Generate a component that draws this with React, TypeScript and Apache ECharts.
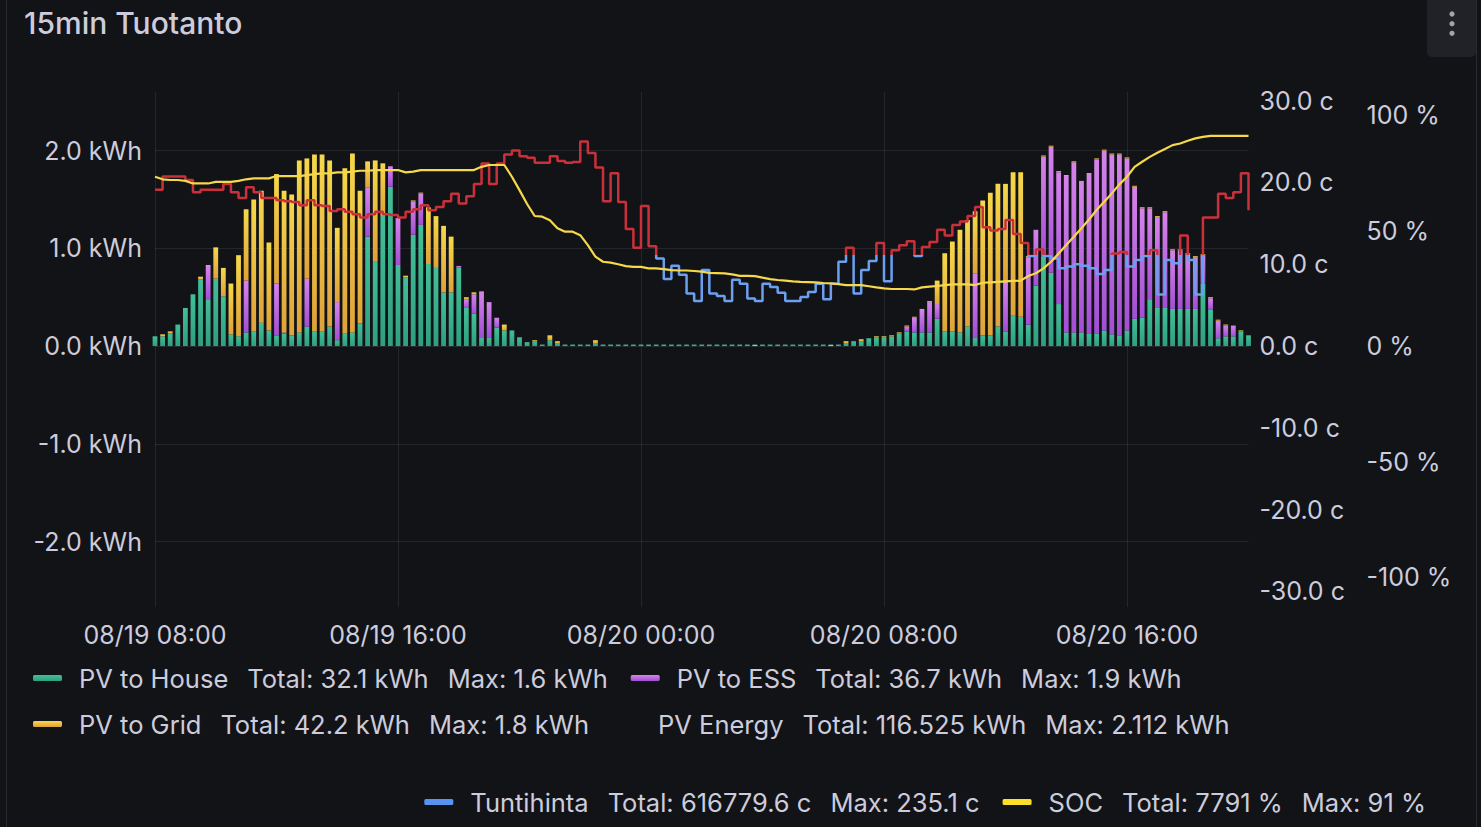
import React, { useEffect, useRef } from "react";
import * as echarts from "echarts";

// ---- time base (15 min slots, 08/19 08:00 -> 08/20 20:00) ----
const START_UTC = Date.UTC(2025, 7, 19, 8, 0, 0);
const SLOT_MS = 15 * 60 * 1000;
const SLOTS_PER_LABEL = 32; // one label / grid line every 8 h

// ---- series values (kWh per 15 min) ----
const PV_TO_HOUSE = [
  0.10, 0.10, 0.13, 0.22, 0.39, 0.53, 0.68, 0.48, 0.69, 0.51,
  0.12, 0.10, 0.14, 0.15, 0.24, 0.16, 0.11, 0.13, 0.11, 0.14,
  0.20, 0.15, 0.15, 0.20, 0.06, 0.13, 0.14, 0.23, 1.12, 0.87,
  1.33, 1.63, 0.83, 0.70, 1.14, 1.24, 0.84, 0.80, 0.55, 0.55,
  0.80, 0.39, 0.33, 0.09, 0.09, 0.19, 0.16, 0.16, 0.09, 0.04,
  0.05, 0, 0.06, 0.03, 0, 0, 0, 0, 0.03, 0,
  0, 0, 0, 0, 0, 0, 0, 0, 0, 0,
  0, 0, 0, 0, 0, 0, 0, 0, 0, 0,
  0, 0, 0, 0, 0, 0, 0, 0, 0, 0,
  0.01, 0.03, 0.05, 0.05, 0.08, 0.09, 0.09, 0.10, 0.13, 0.15,
  0.14, 0.14, 0.14, 0.28, 0.15, 0.15, 0.14, 0.20, 0.09, 0.11,
  0.11, 0.20, 0.15, 0.31, 0.30, 0.22, 0.62, 0.92, 0.75, 0.43,
  0.14, 0.14, 0.14, 0.13, 0.13, 0.16, 0.12, 0.11, 0.16, 0.28,
  0.29, 0.48, 0.39, 0.39, 0.38, 0.38, 0.38, 0.38, 0.64, 0.37,
  0.08, 0.10, 0.10, 0.15, 0.11,
];

const PV_TO_ESS = [
  0, 0, 0, 0, 0, 0, 0, 0.34, 0, 0,
  0, 0, 0.53, 0, 0, 0, 0.53, 0.01, 0, 0,
  0.49, 0, 0, 0, 0.39, 0, 0, 0, 0.50, 0,
  0, 0.21, 0.48, 0, 0.34, 0.32, 0, 0, 0, 0,
  0.02, 0.09, 0.20, 0.47, 0.36, 0.10, 0, 0, 0, 0,
  0, 0, 0, 0, 0, 0, 0, 0, 0, 0,
  0, 0, 0, 0, 0, 0, 0, 0, 0, 0,
  0, 0, 0, 0, 0, 0, 0, 0, 0, 0,
  0, 0, 0, 0, 0, 0, 0, 0, 0, 0,
  0, 0, 0, 0, 0, 0, 0, 0, 0, 0.05,
  0.15, 0.23, 0.31, 0.15, 0, 0, 0, 0, 0.65, 0,
  0, 0, 0.51, 0, 0, 0.69, 0.57, 1.02, 1.29, 1.35,
  1.60, 1.74, 1.54, 1.63, 1.78, 1.84, 1.84, 1.85, 1.76, 1.35,
  1.12, 0.93, 0.93, 0.98, 0.60, 0.60, 0.56, 0.53, 0.29, 0.12,
  0.18, 0.11, 0.11, 0, 0,
];

const PV_TO_GRID = [
  0, 0.02, 0.02, 0, 0, 0, 0.03, 0.01, 0.32, 0.29,
  0.52, 0.83, 0.73, 1.35, 1.35, 0.90, 1.12, 1.45, 1.44, 1.76,
  1.23, 1.81, 1.81, 1.70, 0.76, 1.69, 1.83, 1.36, 0.27, 1.03,
  0.54, 0, 0, 0.02, 0.01, 0.01, 0.58, 0.53, 0.68, 0.57,
  0, 0.02, 0.02, 0, 0, 0, 0.06, 0, 0, 0,
  0.01, 0, 0.05, 0.02, 0, 0, 0, 0, 0.03, 0,
  0, 0, 0, 0, 0, 0, 0, 0, 0, 0,
  0, 0, 0, 0, 0, 0, 0, 0, 0, 0.01,
  0, 0, 0, 0, 0, 0, 0, 0, 0, 0.01,
  0, 0.02, 0, 0.02, 0, 0.01, 0.01, 0.01, 0.01, 0.01,
  0.01, 0.01, 0.01, 0.24, 0.80, 0.92, 1.05, 1.09, 0.64, 1.38,
  1.46, 1.46, 1.00, 1.47, 1.48, 0.01, 0, 0.01, 0.01, 0.01,
  0.01, 0.01, 0.01, 0.01, 0.01, 0.01, 0.01, 0.01, 0.01, 0.01,
  0.01, 0.01, 0.01, 0.01, 0.01, 0.01, 0.01, 0.01, 0.01, 0.01,
  0.01, 0.01, 0, 0.01, 0,
];

// ---- price (c/kWh) ----
const TUNTIHINTA = [
  19.1, 20.7, 20.7, 20.7, 20.3, 18.8, 19.1, 19.1, 19.1, 19.8,
  18.8, 18.1, 19.4, 18.8, 18.1, 18.1, 17.8, 17.7, 17.6, 17.2,
  17.8, 17.2, 17.1, 16.5, 16.7, 16.4, 16.1, 15.7, 16.1, 16.4,
  16.1, 16.0, 15.7, 16.4, 16.7, 17.2, 16.6, 17.0, 17.7, 18.6,
  17.4, 18.3, 19.8, 22.3, 19.8, 22.3, 23.4, 23.9, 23.2, 23.0,
  22.4, 22.4, 23.2, 22.6, 22.4, 22.5, 25.0, 23.6, 21.8, 17.7,
  21.1, 17.6, 14.3, 12.0, 17.1, 12.2, 10.7, 8.2, 9.8, 8.7,
  6.4, 5.5, 9.3, 6.4, 6.1, 5.5, 8.1, 7.6, 5.8, 5.5,
  7.6, 7.2, 6.5, 5.5, 5.5, 6.0, 6.6, 7.6, 5.7, 7.6,
  10.3, 12.0, 6.4, 9.3, 10.4, 12.6, 7.9, 11.7, 12.3, 12.8,
  11.0, 12.1, 12.7, 14.2, 13.5, 14.8, 15.2, 15.9, 17.0, 14.5,
  14.1, 14.3, 15.4, 13.7, 12.6, 11.0, 11.8, 11.0, 10.7, 9.5,
  9.7, 10.0, 9.8, 9.5, 8.8, 9.3, 11.3, 11.5, 9.7, 10.5,
  11.0, 11.7, 6.3, 10.5, 10.1, 13.5, 10.5, 6.3, 15.7, 15.7,
  18.6, 18.1, 18.8, 21.1, 16.6,
];

// ---- battery state of charge (%) ----
const SOC = [
  73.3, 72.2, 71.9, 71.9, 71.5, 70.4, 70.4, 70.4, 71.1, 71.1,
  71.1, 71.5, 72.2, 72.6, 72.6, 72.6, 73.6, 73.6, 73.6, 73.6,
  74.0, 74.4, 74.8, 74.8, 75.2, 75.2, 75.5, 75.9, 75.9, 76.2,
  76.2, 76.2, 76.2, 75.2, 75.5, 76.2, 76.2, 76.2, 76.2, 76.2,
  76.2, 76.2, 76.2, 77.6, 78.4, 78.4, 78.4, 73.3, 67.5, 61.5,
  56.3, 56.0, 54.5, 51.0, 49.5, 49.5, 48.0, 43.7, 38.7, 36.5,
  36.1, 35.4, 34.6, 34.3, 34.3, 33.6, 33.6, 33.3, 32.9, 32.7,
  32.7, 32.5, 32.2, 31.7, 31.6, 31.5, 31.0, 30.4, 30.4, 30.3,
  29.6, 29.0, 28.6, 28.3, 28.0, 27.8, 27.7, 27.6, 27.3, 27.1,
  26.8, 26.4, 26.4, 26.4, 25.9, 25.4, 25.0, 24.7, 24.7, 24.7,
  24.5, 25.4, 25.7, 26.0, 26.4, 26.7, 26.7, 26.7, 26.4, 27.4,
  27.6, 27.8, 28.0, 28.2, 28.3, 30.3, 31.5, 33.6, 36.5, 40.1,
  43.7, 47.3, 51.0, 54.8, 58.9, 62.5, 66.1, 70.0, 73.3, 77.6,
  79.8, 81.9, 83.7, 85.3, 87.0, 87.7, 88.9, 89.9, 90.6, 91.0,
  91.0, 91.0, 91.0, 91.0, 91.0,
];

// price colour bands (c)
const PRICE_BAND_LOW = -1000;
const PRICE_THRESHOLD = 11.15;
const PRICE_BAND_HIGH = 1000;

// ---- legend texts ----
const LEGEND_ROW_1 = ["PV to House", "PV to ESS"];
const LEGEND_ROW_2 = ["PV to Grid", "PV Energy"];
const LEGEND_ROW_3 = ["Tuntihinta", "SOC"];
const LEGEND_STATS: Record<string, string[]> = {
  "PV to House": ["Total: 32.1 kWh", "Max: 1.6 kWh"],
  "PV to ESS": ["Total: 36.7 kWh", "Max: 1.9 kWh"],
  "PV to Grid": ["Total: 42.2 kWh", "Max: 1.8 kWh"],
  "PV Energy": ["Total: 116.525 kWh", "Max: 2.112 kWh"],
  Tuntihinta: ["Total: 616779.6 c", "Max: 235.1 c"],
  SOC: ["Total: 7791 %", "Max: 91 %"],
};

const TITLE = "15min Tuotanto";

const BG = "#121317";
const TEXT = "#ccccdc";
const GRIDLINE = "rgba(204,204,220,0.10)";
const FONT = "Inter";
const LABEL_SIZE = 25;
const LEGEND_SIZE = 25.5;

const pad2 = (n: number) => (n < 10 ? "0" + n : "" + n);
const fmtTime = (v: number) => {
  const d = new Date(v);
  return `${pad2(d.getUTCMonth() + 1)}/${pad2(d.getUTCDate())} ${pad2(d.getUTCHours())}:${pad2(d.getUTCMinutes())}`;
};

// category labels: one per 15-min slot
const TIME_LABELS = PV_TO_HOUSE.map((_, i) => fmtTime(START_UTC + i * SLOT_MS));

const grad = (top: string, bottom: string) =>
  new echarts.graphic.LinearGradient(0, 0, 0, 1, [
    { offset: 0, color: top },
    { offset: 1, color: bottom },
  ]);

export default function App() {
  const ref = useRef<HTMLDivElement>(null);

  useEffect(() => {
    if (!ref.current) return;
    const chart = echarts.init(ref.current, null, { renderer: "svg" });

    const legendBase = {
      orient: "horizontal",
      padding: 0,
      itemGap: 23,
      itemWidth: 29,
      itemHeight: 6,
      icon: "roundRect",
      selectedMode: false,
      textStyle: {
        color: TEXT,
        fontSize: LEGEND_SIZE,
        fontFamily: FONT,
        lineHeight: 28,
        rich: {
          n: { color: TEXT, fontSize: LEGEND_SIZE, fontFamily: FONT, lineHeight: 28, padding: [0, 0, 0, 12] },
          v: { color: TEXT, fontSize: LEGEND_SIZE, fontFamily: FONT, lineHeight: 28, padding: [0, 0, 0, 19] },
        },
      },
      formatter: (name: string) => {
        const s = LEGEND_STATS[name] || ["", ""];
        return `{n|${name}}{v|${s[0]}}{v|${s[1]}}`;
      },
    };

    const axisLabelBase = {
      color: TEXT,
      fontSize: LABEL_SIZE,
      fontFamily: FONT,
      showMinLabel: false,
      showMaxLabel: false,
    };

    const option: any = {
      animation: false,
      backgroundColor: BG,
      textStyle: { fontFamily: FONT },
      grid: { left: 155, right: 232.5, top: 92, bottom: 220, containLabel: false },
      legend: [
        { ...legendBase, data: LEGEND_ROW_1, left: 33, top: 664 },
        { ...legendBase, data: LEGEND_ROW_2, left: 33, top: 710 },
        { ...legendBase, data: LEGEND_ROW_3, right: 55, top: 788 },
      ],
      visualMap: [
        {
          show: false,
          type: "piecewise",
          seriesIndex: 4,
          dimension: 1,
          pieces: [
            { gte: PRICE_BAND_LOW, lt: PRICE_THRESHOLD, color: "#6b9ff0" },
            { gte: PRICE_THRESHOLD, lte: PRICE_BAND_HIGH, color: "#c9303a" },
          ],
          outOfRange: { color: "#6b9ff0" },
        },
      ],
      xAxis: {
        type: "category",
        data: TIME_LABELS,
        boundaryGap: false,
        axisLine: { show: false },
        axisTick: { show: false },
        splitLine: {
          show: true,
          interval: SLOTS_PER_LABEL - 1,
          lineStyle: { color: GRIDLINE, width: 1 },
        },
        axisLabel: {
          color: TEXT,
          fontSize: LABEL_SIZE,
          fontFamily: FONT,
          margin: 15,
          interval: SLOTS_PER_LABEL - 1,
        },
      },
      yAxis: [
        {
          type: "value",
          position: "left",
          min: -2.67,
          max: 2.6,
          splitNumber: 5,
          axisLine: { show: false },
          axisTick: { show: false },
          splitLine: { show: true, showMinLine: false, showMaxLine: false, lineStyle: { color: GRIDLINE, width: 1 } },
          axisLabel: { ...axisLabelBase, margin: 13, formatter: (v: number) => `${v.toFixed(1)} kWh` },
        },
        {
          type: "value",
          position: "right",
          min: -31.9,
          max: 31.04,
          splitNumber: 5,
          axisLine: { show: false },
          axisTick: { show: false },
          splitLine: { show: false },
          axisLabel: { ...axisLabelBase, margin: 11, formatter: (v: number) => `${v.toFixed(1)} c` },
        },
        {
          type: "value",
          position: "right",
          offset: 107,
          min: -113,
          max: 110,
          splitNumber: 5,
          axisLine: { show: false },
          axisTick: { show: false },
          splitLine: { show: false },
          axisLabel: { ...axisLabelBase, margin: 11, formatter: (v: number) => `${Math.round(v)} %` },
        },
      ],
      series: [
        {
          name: "PV to House",
          type: "bar",
          stack: "pv",
          barWidth: 4.8,
          barMinHeight: 1.5,
          color: "#3ecb91",
          itemStyle: { color: grad("#42bf98", "#2f9f7f") },
          data: PV_TO_HOUSE,
        },
        {
          name: "PV to ESS",
          type: "bar",
          stack: "pv",
          barWidth: 4.8,
          color: "#b35ee3",
          itemStyle: { color: grad("#d684ea", "#a14fd4") },
          data: PV_TO_ESS,
        },
        {
          name: "PV to Grid",
          type: "bar",
          stack: "pv",
          barWidth: 4.8,
          color: "#ffb52e",
          itemStyle: { color: grad("#f6d84a", "#dea23a") },
          data: PV_TO_GRID,
        },
        {
          name: "PV Energy",
          type: "line",
          color: "rgba(0,0,0,0)",
          itemStyle: { color: "rgba(0,0,0,0)" },
          lineStyle: { color: "rgba(0,0,0,0)" },
          showSymbol: false,
          data: [],
        },
        {
          name: "Tuntihinta",
          type: "line",
          yAxisIndex: 1,
          step: "end",
          color: "#5794f2",
          itemStyle: { color: "#5794f2" },
          lineStyle: { width: 2.5 },
          showSymbol: false,
          z: 4,
          data: TUNTIHINTA,
        },
        {
          name: "SOC",
          type: "line",
          yAxisIndex: 2,
          color: "#fade2a",
          itemStyle: { color: "#fade2a" },
          lineStyle: { width: 2.2, color: "#f5d94a" },
          showSymbol: false,
          z: 5,
          data: SOC,
        },
      ],
      graphic: [
        {
          type: "rect",
          silent: true,
          z: -1,
          shape: { x: 6.5, y: -10, width: 1470, height: 850, r: 3 },
          style: { fill: "none", stroke: "rgba(204,204,220,0.13)", lineWidth: 1 },
        },
        {
          type: "rect",
          silent: true,
          shape: { x: 1427, y: -6, width: 49, height: 63, r: 5 },
          style: { fill: "#202227" },
        },
        { type: "circle", silent: true, shape: { cx: 1452, cy: 14, r: 2.6 }, style: { fill: "#a3a5ab" } },
        { type: "circle", silent: true, shape: { cx: 1452, cy: 23.7, r: 2.6 }, style: { fill: "#a3a5ab" } },
        { type: "circle", silent: true, shape: { cx: 1452, cy: 33.3, r: 2.6 }, style: { fill: "#a3a5ab" } },
        {
          type: "text",
          silent: true,
          x: 24,
          y: 23,
          style: {
            text: TITLE,
            fill: TEXT,
            fontSize: 30,
            fontWeight: 500,
            fontFamily: FONT,
            align: "left",
            verticalAlign: "middle",
          },
        },
      ],
    };

    chart.setOption(option);
    return () => chart.dispose();
  }, []);

  return (
    <div
      ref={ref}
      style={{ position: "fixed", left: 0, top: 0, width: "1481px", height: "827px", background: BG }}
    />
  );
}
